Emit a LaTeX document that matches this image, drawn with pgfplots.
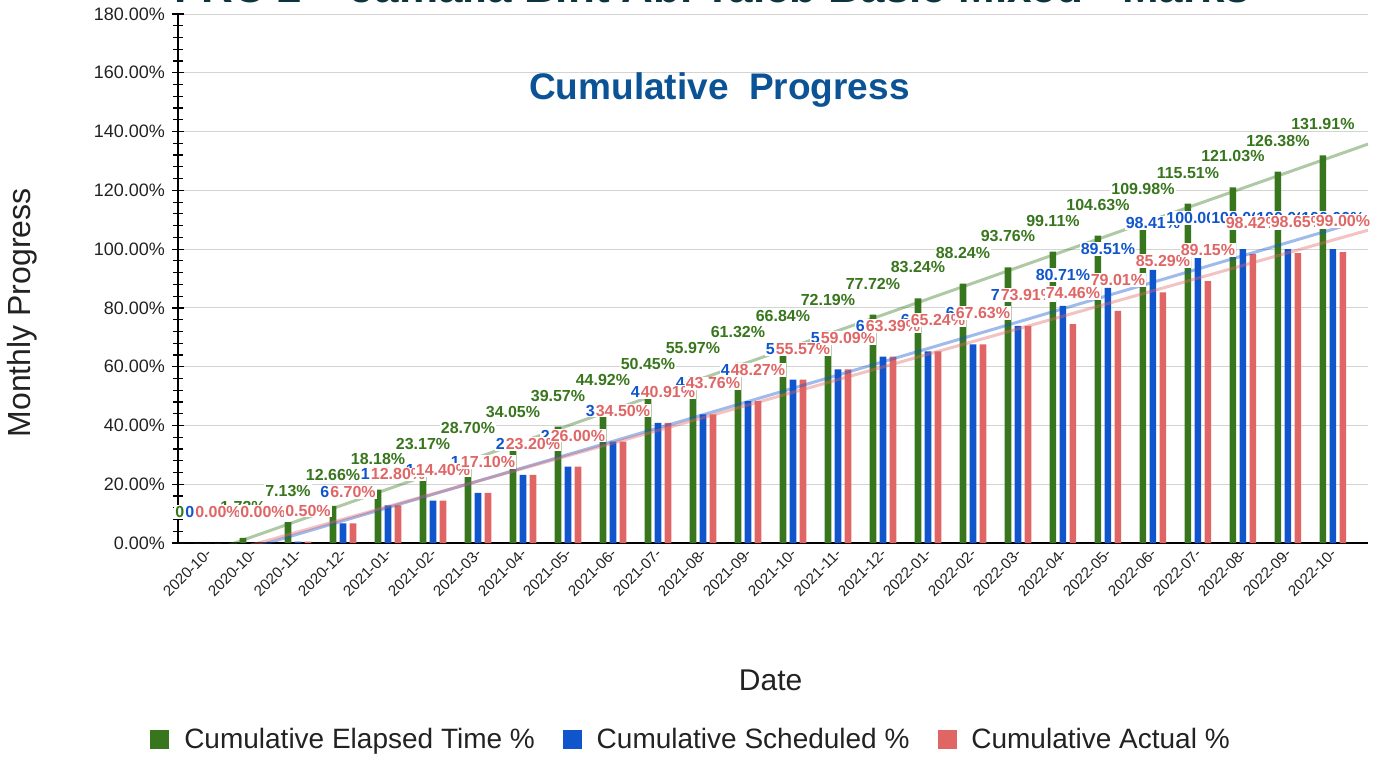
\documentclass[border=0pt]{standalone}
\usepackage{fontspec}
\setmainfont{Liberation Sans}
\usepackage{pgfplots}
\usepackage{pgfplotstable}
\pgfplotsset{compat=1.18}

\definecolor{gbar}{HTML}{38761D}
\definecolor{bbar}{HTML}{1155CC}
\definecolor{rbar}{HTML}{E06666}
\definecolor{subt}{HTML}{0B5394}
\definecolor{ttl}{HTML}{0C343D}
\definecolor{txt}{HTML}{222222}

% x = category index, g/b/r = bar heights, blab = printed label of the blue series
\pgfplotstableread{
x  label     g       b       blab    r
0  2020-10-  0.00    0.00    0.00    0.00
1  2020-10-  1.73    0.00    0.00    0.00
2  2020-11-  7.13    0.50    0.50    0.50
3  2020-12-  12.66   6.70    6.70    6.70
4  2021-01-  18.18   12.80   12.80   12.80
5  2021-02-  23.17   14.40   14.40   14.40
6  2021-03-  28.70   17.10   17.10   17.10
7  2021-04-  34.05   23.20   23.20   23.20
8  2021-05-  39.57   26.00   26.00   26.00
9  2021-06-  44.92   34.50   34.50   34.50
10 2021-07-  50.45   40.91   40.91   40.91
11 2021-08-  55.97   43.76   43.76   43.76
12 2021-09-  61.32   48.27   48.27   48.27
13 2021-10-  66.84   55.57   55.57   55.57
14 2021-11-  72.19   59.09   59.09   59.09
15 2021-12-  77.72   63.39   63.39   63.39
16 2022-01-  83.24   65.24   65.24   65.24
17 2022-02-  88.24   67.63   67.63   67.63
18 2022-03-  93.76   73.91   73.91   73.91
19 2022-04-  99.11   80.71   80.71   74.46
20 2022-05-  104.63  86.80   89.51   79.01
21 2022-06-  109.98  92.90   98.41   85.29
22 2022-07-  115.51  96.90   100.00  89.15
23 2022-08-  121.03  100.00  100.00  98.42
24 2022-09-  126.38  100.00  100.00  98.65
25 2022-10-  131.91  100.00  100.00  99.00
}\progress

% ends of the trend lines (the plot's left and right edges)
\pgfplotstableread{
x       k
-0.667  0
25.78   1
}\edges

\pgfplotstablecreatecol[linear regression={x=x, y=g}]{gfit}{\progress}
\xdef\ga{\pgfplotstableregressiona}\xdef\gb{\pgfplotstableregressionb}
\pgfplotstablecreatecol[linear regression={x=x, y=b}]{bfit}{\progress}
\xdef\ba{\pgfplotstableregressiona}\xdef\bb{\pgfplotstableregressionb}
\pgfplotstablecreatecol[linear regression={x=x, y=r}]{rfit}{\progress}
\xdef\ra{\pgfplotstableregressiona}\xdef\rb{\pgfplotstableregressionb}

\pgfplotsset{
  lbl/.style={only marks, mark=none, forget plot,
    nodes near coords={\pgfmathprintnumber[fixed,fixed zerofill,precision=2]{\pgfplotspointmeta}\%},
    nodes near coords style={anchor=center, yshift=15.5pt, fill=white, inner sep=0.6pt,
      font=\bfseries\fontsize{8}{9}\selectfont, text=#1}},
  trend/.style={sharp plot, no marks, forget plot, draw=#1, draw opacity=0.4, line width=1.5pt},
}

\begin{document}
\begin{tikzpicture}
\begin{axis}[
  at={(89pt,-271.5pt)}, anchor=south west,
  scale only axis, width=595pt, height=264.5pt,
  xmin=-0.667, xmax=25.78, ymin=0, ymax=180,
  axis lines*=left,
  axis line style={black, line width=0.8pt},
  xtick={0,...,25},
  xticklabels from table={\progress}{label},
  xtick style={draw=none},
  xticklabel style={rotate=45, anchor=east, xshift=3pt, yshift=-1pt, font=\fontsize{7.6}{9}\selectfont, text=txt},
  ytick={0,20,...,180},
  minor y tick num=4,
  tick align=center,
  major tick length=6pt, minor tick length=5pt,
  ytick style={black, line width=0.6pt},
  yticklabel={\pgfmathprintnumber[fixed,fixed zerofill,precision=2]{\tick}\%},
  yticklabel style={font=\fontsize{9}{10}\selectfont, text=txt},
  /pgf/number format/assume math mode=true,
  ymajorgrids, major grid style={draw=black!17, line width=0.5pt},
  xlabel={Date},
  xlabel style={at={(axis description cs:0.498,-0.259)}, anchor=center, font=\fontsize{15}{17}\selectfont, text=txt},
  ylabel={Monthly Progress},
  ylabel style={at={(axis description cs:-0.131,0.435)}, anchor=center, font=\fontsize{16}{18}\selectfont, text=txt},
  title={Cumulative\ \ Progress},
  title style={at={(axis description cs:0.455,0.834)}, anchor=center, font=\bfseries\fontsize{18.5}{22}\selectfont, text=subt},
  legend style={at={(axis description cs:0.432,-0.372)}, anchor=center, draw=none, fill=none,
    legend columns=3, font=\fontsize{14}{16}\selectfont, text=txt,
    /tikz/every odd column/.append style={column sep=5.5pt},
    /tikz/every even column/.append style={column sep=12pt}},
]
\addlegendimage{legend image code/.code={\fill[gbar] (0pt,-4.5pt) rectangle (9pt,4.5pt);}}
\addlegendentry{Cumulative Elapsed Time \%}
\addlegendimage{legend image code/.code={\fill[bbar] (0pt,-4.5pt) rectangle (9pt,4.5pt);}}
\addlegendentry{Cumulative Scheduled \%}
\addlegendimage{legend image code/.code={\fill[rbar] (0pt,-4.5pt) rectangle (9pt,4.5pt);}}
\addlegendentry{Cumulative Actual \%}

% bars
\addplot[ybar, bar width=3.3pt, bar shift=-5pt, fill=gbar, draw=none, forget plot] table[x=x, y=g] {\progress};
\addplot[ybar, bar width=3.3pt, bar shift=0pt, fill=bbar, draw=none, forget plot] table[x=x, y=b] {\progress};
\addplot[ybar, bar width=3.3pt, bar shift=5pt, fill=rbar, draw=none, forget plot] table[x=x, y=r] {\progress};

% linear trend lines across the whole plot width
\addplot[trend=gbar] table[x=x, y expr=\ga*\thisrow{x}+\gb] {\edges};
\addplot[trend=bbar] table[x=x, y expr=\ba*\thisrow{x}+\bb] {\edges};
\addplot[trend=rbar] table[x=x, y expr=\ra*\thisrow{x}+\rb] {\edges};

% data labels
\addplot[lbl=gbar] table[x expr=\thisrow{x}-0.2222, y=g] {\progress};
\addplot[lbl=bbar] table[x=x, y=blab] {\progress};
\addplot[lbl=rbar] table[x expr=\thisrow{x}+0.2222, y=r] {\progress};
\end{axis}
\node[anchor=base, text=ttl, font=\bfseries\fontsize{22}{26}\selectfont] at (356pt,-1.2pt)
  {FRC 2 -- Jamalia Bint Abi Taleb Basic Mixed - Marks};
\pgfresetboundingbox
\path[use as bounding box] (0pt,0pt) rectangle (692.5pt,-378pt);
\end{tikzpicture}
\end{document}
